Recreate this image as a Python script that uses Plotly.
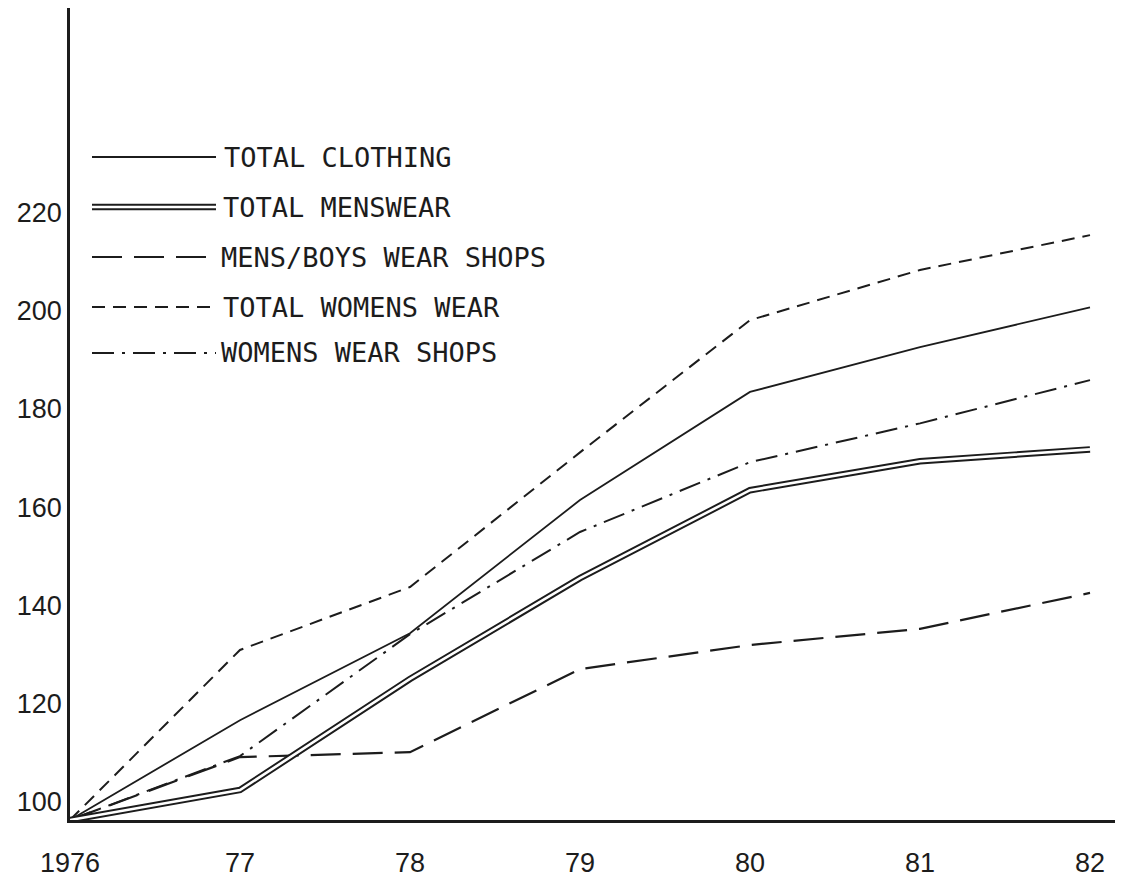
import plotly.graph_objects as go

# ---- data (index, 1976 = 100) ----
years = [1976, 1977, 1978, 1979, 1980, 1981, 1982]
year_labels = ["1976", "77", "78", "79", "80", "81", "82"]
total_clothing = [100, 120.3, 138.0, 165.1, 187.1, 196.2, 204.3]
total_menswear = [100, 106.1, 128.7, 149.2, 167.1, 173.0, 175.4]
mens_boys_shops = [100, 112.8, 113.8, 130.7, 135.6, 138.9, 146.2]
total_womens = [100, 134.6, 147.4, 174.8, 201.7, 211.9, 219.0]
womens_shops = [100, 113.0, 137.8, 158.6, 172.8, 180.7, 189.5]
y_ticks = [100, 120, 140, 160, 180, 200, 220]

legend_labels = ["TOTAL CLOTHING", "TOTAL MENSWEAR", "MENS/BOYS WEAR SHOPS",
                 "TOTAL WOMENS WEAR", "WOMENS WEAR SHOPS"]

INK = "#1c1c1c"
OFF = 8                      # page body margin
W, H = 1123 - 2 * OFF, 888 - 2 * OFF
L = 70 - OFF                 # plot-area left edge (figure px)
PLOT_W = W - L
PLOT_H = 820 - OFF           # plot-area bottom edge (figure px), top at 0
B = H - PLOT_H
PX_PER_YEAR = 170.0
PX_PER_UNIT = 4.915

DASH_MB = "30px,12px"
DASH_WW = "13px,8px"
DASH_WS = "22px,8px,3px,8px"

fig = go.Figure()

def line(y, dash="solid", width=1.8, color=INK):
    fig.add_trace(go.Scatter(x=years, y=y, mode="lines", showlegend=False,
                             hoverinfo="skip",
                             line=dict(color=color, width=width, dash=dash)))

line(total_womens, DASH_WW, 2.0)
line(womens_shops, DASH_WS, 2.0)
line(mens_boys_shops, DASH_MB, 2.2)
line(total_clothing, "solid", 1.8)
# double line for total menswear
line(total_menswear, "solid", 6.5)
line(total_menswear, "solid", 2.6, "white")

# ---- manual legend (layout decoration, page px -> paper) ----
def px(xp):
    return (xp - OFF - L) / PLOT_W

def py(yp):
    return (PLOT_H - (yp - OFF)) / PLOT_H

rows = [157, 207, 257, 307, 353]
styles = [("solid", 1.8), ("double", 0), (DASH_MB, 2.2), (DASH_WW, 2.0), (DASH_WS, 2.0)]
x0, x1 = 92, 216
text_x = [222, 221, 219, 221, 219]
for r, (dash, wd), lab, tx in zip(rows, styles, legend_labels, text_x):
    if dash == "double":
        fig.add_shape(type="line", xref="paper", yref="paper", x0=px(x0), x1=px(x1),
                      y0=py(r), y1=py(r), line=dict(color=INK, width=6.5))
        fig.add_shape(type="line", xref="paper", yref="paper", x0=px(x0 - 2), x1=px(x1 + 2),
                      y0=py(r), y1=py(r), line=dict(color="white", width=2.6))
    else:
        fig.add_shape(type="line", xref="paper", yref="paper", x0=px(x0), x1=px(x1),
                      y0=py(r), y1=py(r), line=dict(color=INK, width=wd, dash=dash))
    fig.add_annotation(xref="paper", yref="paper", x=px(tx), y=py(r),
                       xanchor="left", yanchor="middle", showarrow=False,
                       text=lab, font=dict(family="DejaVu Sans Mono", size=27, color=INK))

tick_font = dict(family="Liberation Sans, Arial, sans-serif", size=27, color=INK)

fig.update_layout(
    width=W, height=H,
    margin=dict(l=L, r=0, t=0, b=B, pad=0),
    paper_bgcolor="white", plot_bgcolor="white",
    xaxis=dict(range=[years[0], years[0] + PLOT_W / PX_PER_YEAR],
               tickvals=years, ticktext=year_labels, ticks="",
               showgrid=False, zeroline=False, showline=True,
               linecolor=INK, linewidth=3, tickfont=tick_font,
               ticklabelstandoff=17),
    yaxis=dict(range=[100, 100 + PLOT_H / PX_PER_UNIT],
               tickvals=y_ticks, ticks="", showgrid=False, zeroline=False,
               showline=True, linecolor=INK, linewidth=2.5, tickfont=tick_font,
               ticklabelshift=-18, ticklabelstandoff=0),
    showlegend=False,
)

fig.write_html("out.html")
